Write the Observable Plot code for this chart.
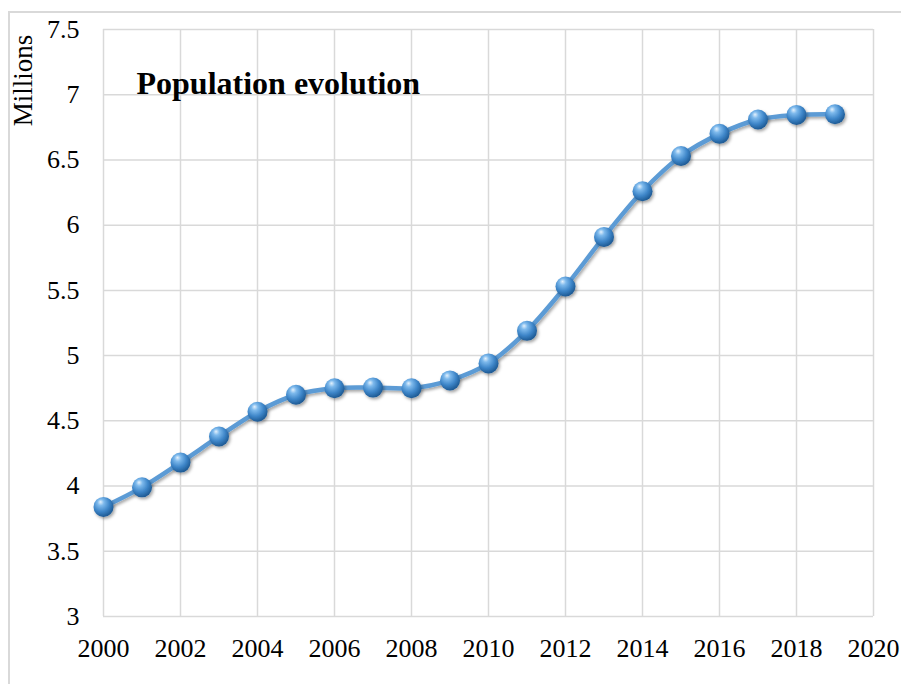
<!DOCTYPE html>
<html>
<head>
<meta charset="utf-8">
<script src="https://cdn.jsdelivr.net/npm/d3@7"></script>
<script src="https://cdn.jsdelivr.net/npm/@observablehq/plot@0.6"></script>
<style>
  html, body { margin: 0; padding: 0; background: #fff; }
  #chart { position: relative; width: 901px; height: 684px; }
  #chart svg { display: block; }
  #chart svg text { font-family: 'Liberation Serif', 'Times New Roman', serif !important; }
  .frame { position: absolute; left: 8px; top: 11px; width: 900px; height: 700px; border-left: 2px solid #d9d9d9; border-top: 2px solid #d9d9d9; box-sizing: border-box; pointer-events: none; }
</style>
</head>
<body>
<div id="chart"><div class="frame"></div></div>
<script>
const years = [2000, 2001, 2002, 2003, 2004, 2005, 2006, 2007, 2008, 2009,
               2010, 2011, 2012, 2013, 2014, 2015, 2016, 2017, 2018, 2019];
const population = [3.84, 3.99, 4.18, 4.38, 4.57, 4.70, 4.75, 4.755, 4.75, 4.81,
                    4.94, 5.19, 5.53, 5.91, 6.26, 6.53, 6.70, 6.81, 6.845, 6.85];
const xTicks = [2000, 2002, 2004, 2006, 2008, 2010, 2012, 2014, 2016, 2018, 2020];
const yTicks = [3, 3.5, 4, 4.5, 5, 5.5, 6, 6.5, 7, 7.5];
const titleText = "Population evolution";
const yLabel = "Millions";

const data = years.map((y, i) => ({year: y, value: population[i]}));
const serif = "'Liberation Serif', 'Times New Roman', serif";

const chart = Plot.plot({
  width: 901,
  height: 684,
  marginLeft: 103,
  marginRight: 28,
  marginTop: 29,
  marginBottom: 68,
  style: {fontFamily: serif, fontSize: "26px", color: "#000", background: "transparent", overflow: "visible"},
  x: {domain: [2000, 2020], ticks: xTicks, tickFormat: d => String(d), tickSize: 0, tickPadding: 22, label: null},
  y: {domain: [3, 7.5], ticks: yTicks, tickFormat: d => String(d), tickSize: 0, tickPadding: 24, label: null},
  marks: [
    Plot.gridX(xTicks, {stroke: "#d9d9d9", strokeOpacity: 1, strokeWidth: 1.5}),
    Plot.gridY(yTicks, {stroke: "#d9d9d9", strokeOpacity: 1, strokeWidth: 1.5}),
    Plot.axisX({ticks: xTicks, tickSize: 0, tickPadding: 22, tickFormat: d => String(d), fontSize: 26, fontFamily: serif, fill: "#000", label: null}),
    Plot.axisY({ticks: yTicks, tickSize: 0, tickPadding: 24, tickFormat: d => String(d), fontSize: 26, fontFamily: serif, fill: "#000", label: null}),
    Plot.line(data, {x: "year", y: "value", curve: "catmull-rom", stroke: "#5b9bd5", strokeWidth: 4.5, className: "series-line"}),
    Plot.dot(data, {x: "year", y: "value", r: 10, fill: "url(#sphere)", stroke: "none", className: "series-dots"}),
    Plot.text([titleText], {frameAnchor: "top-left", textAnchor: "start", lineAnchor: "middle", dx: 33, dy: 54, fontSize: 32, fontWeight: "bold", fontFamily: serif, fill: "#000", text: d => d}),
    Plot.text([yLabel], {frameAnchor: "top-left", textAnchor: "middle", lineAnchor: "middle", dx: -80, dy: 51, rotate: -90, fontSize: 27, fontFamily: serif, fill: "#000", text: d => d})
  ]
});

const svg = d3.select(chart);
const defs = svg.insert("defs", ":first-child");
const g = defs.append("radialGradient").attr("id", "sphere")
  .attr("cx", "40%").attr("cy", "35%").attr("r", "65%").attr("fx", "35%").attr("fy", "25%");
g.append("stop").attr("offset", "0%").attr("stop-color", "#e3f1fd");
g.append("stop").attr("offset", "25%").attr("stop-color", "#7db9ec");
g.append("stop").attr("offset", "65%").attr("stop-color", "#3d85c8");
g.append("stop").attr("offset", "100%").attr("stop-color", "#1e5a94");
const f = defs.append("filter").attr("id", "shadow").attr("x", "-20%").attr("y", "-20%").attr("width", "140%").attr("height", "140%");
f.append("feDropShadow").attr("dx", 1.5).attr("dy", 2).attr("stdDeviation", 1.5).attr("flood-color", "#000").attr("flood-opacity", 0.35);
svg.selectAll(".series-line, .series-dots").attr("filter", "url(#shadow)");

document.getElementById("chart").appendChild(chart);
</script>
</body>
</html>
